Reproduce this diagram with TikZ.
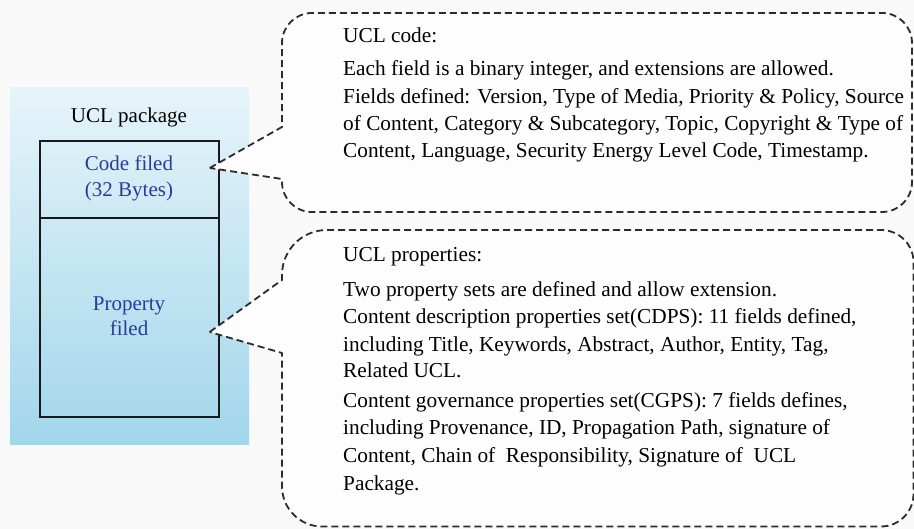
\documentclass[tikz,border=0pt]{standalone}
\usepackage{fontspec}
\setmainfont{Liberation Serif}
\usetikzlibrary{calc}
\definecolor{bluetext}{HTML}{283C98}
\definecolor{pkgtop}{HTML}{E6F4FA}
\definecolor{pkgbot}{HTML}{A2D6EB}
\definecolor{dashgray}{HTML}{2C2C2C}
\definecolor{paper}{HTML}{F9F9F9}
\definecolor{bubble}{HTML}{FDFDFD}
\begin{document}
\begin{tikzpicture}[x=1pt,y=-1pt,
  txt/.style={font=\fontsize{21.3}{25}\selectfont, inner sep=0pt, anchor=base west},
  ctxt/.style={font=\fontsize{21}{25}\selectfont, inner sep=0pt, anchor=base},
  bluelabel/.style={ctxt, text=bluetext},
  fieldbox/.style={draw=black!90, line width=1.4pt, minimum width=179pt, inner sep=0pt},
  pkgbox/.style={top color=pkgtop, bottom color=pkgbot, draw=none, minimum width=239pt, minimum height=357pt, inner sep=0pt},
  bubbleline/.style={draw=dashgray, fill=bubble, line width=1.8pt, dash pattern=on 7pt off 4pt, line join=round}]

% canvas
\fill[paper] (0,0) rectangle (914,529);
\useasboundingbox (0,0) rectangle (914,529);

% UCL package with its two fields
\node[pkgbox] (pkg) at (129.5,266.5) {};
\node[fieldbox, minimum height=77pt] (code) at (129.5,179.5) {};
\node[fieldbox, minimum height=199pt] (prop) at (129.5,317.5) {};

\node[ctxt] (pkgname) at (129,123) {UCL package};
\node[bluelabel] (code1) at (129,171) {Code filed};
\node[bluelabel] (code2) at (129,197) {(32 Bytes)};
\node[bluelabel] (prop1) at (129,311) {Property};
\node[bluelabel] (prop2) at (129,336) {filed};

% pointer tips of the two callouts
\coordinate (ctip) at ($(code.east)+(-10,-11.5)$);
\coordinate (ptip) at ($(prop.east)+(-10,14.5)$);

% callout for the code field
\draw[bubbleline] (ctip) -- (282,127) -- (282,43)
  .. controls (282,26.4) and (295.4,13) .. (312,13) -- (882,13)
  .. controls (898.6,13) and (912,26.4) .. (912,43) -- (912,182)
  .. controls (912,198.6) and (898.6,212) .. (882,212) -- (312,212)
  .. controls (295.4,212) and (282,198.6) .. (282,182) -- (282,179) -- cycle;

% callout for the property field
\draw[bubbleline] (ptip) -- (282,280) -- (282,275)
  .. controls (282,250) and (302,230) .. (327,230) -- (881,230)
  .. controls (899,230) and (913.5,244.5) .. (913.5,262) -- (913.5,494)
  .. controls (913.5,512) and (899,526.5) .. (881,526.5) -- (322,526.5)
  .. controls (300,526.5) and (282,508.5) .. (282,486.5) -- (282,353) -- cycle;

% text of the code callout
\node[txt] (c1) at (343,43) {UCL code:};
\node[txt] (c2) at (343,76) {Each field is a binary integer, and extensions are allowed.};
\node[txt] (c3) at (343,104) {Fields defined: Version, Type of Media, Priority \& Policy, Source};
\node[txt] (c4) at (343,131) {of Content, Category \& Subcategory, Topic, Copyright \& Type of};
\node[txt] (c5) at (343,158) {Content, Language, Security Energy Level Code, Timestamp.};

% text of the property callout
\node[txt] (p1) at (343,262) {UCL properties:};
\node[txt] (p2) at (343,297) {Two property sets are defined and allow extension.};
\node[txt] (p3) at (343,324) {Content description properties set(CDPS): 11 fields defined,};
\node[txt] (p4) at (343,352) {including Title, Keywords, Abstract, Author, Entity, Tag,};
\node[txt] (p5) at (343,378) {Related UCL.};
\node[txt] (p6) at (343,408) {Content governance properties set(CGPS): 7 fields defines,};
\node[txt] (p7) at (343,435) {including Provenance, ID, Propagation Path, signature of};
\node[txt] (p8) at (343,463) {Content, Chain of \ Responsibility, Signature of \ UCL};
\node[txt] (p9) at (343,490) {Package.};
\end{tikzpicture}
\end{document}
